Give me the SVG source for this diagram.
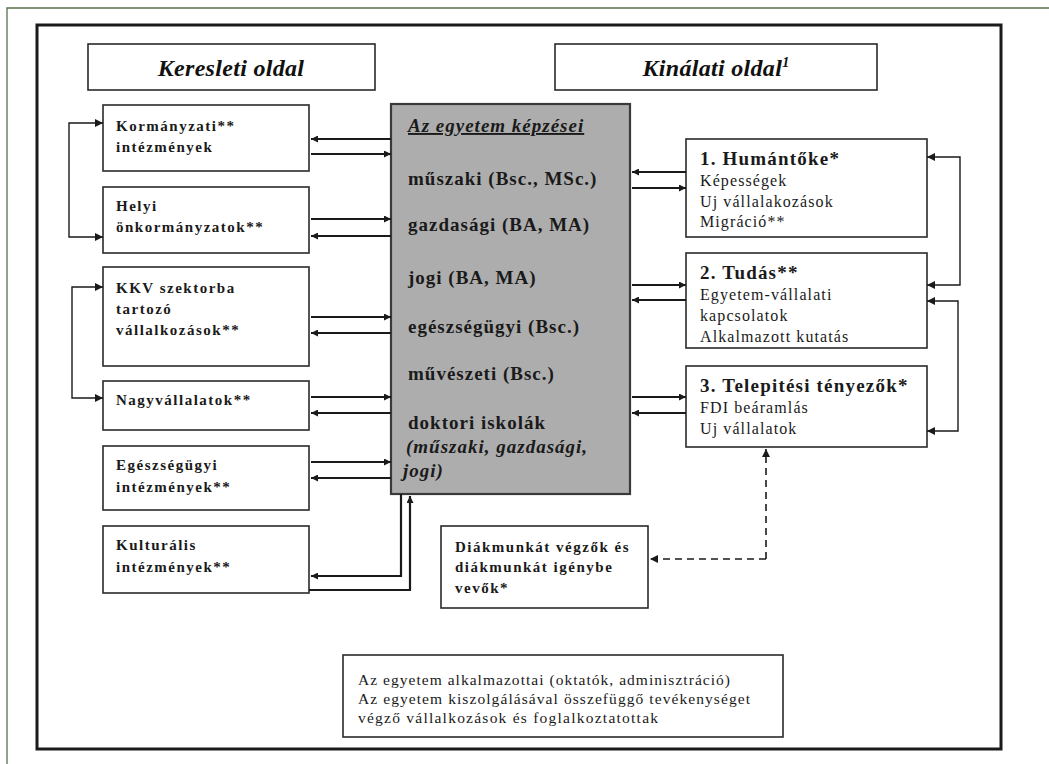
<svg xmlns="http://www.w3.org/2000/svg" width="1049" height="764" viewBox="0 0 1049 764">
<style>
.box{fill:#fff;stroke:#2a2a2a;stroke-width:1.6}
.center{fill:#adadad;stroke:#3a3a3a;stroke-width:2.2}
text{font-family:"Liberation Serif","Times New Roman","DejaVu Serif","Noto Serif",serif}
.hdr{font-style:italic;font-weight:bold;font-size:24px;letter-spacing:0.3px;fill:#111}
.lt{font-weight:bold;font-size:15px;letter-spacing:1.5px;fill:#1a1a1a}
.ct{font-weight:bold;font-size:19px;letter-spacing:1px;fill:#1a1a1a}
.rt{font-weight:bold;font-size:19px;letter-spacing:1.2px;fill:#1a1a1a}
.rs{font-size:16px;letter-spacing:1.1px;fill:#1a1a1a}
.bt{font-size:15.5px;fill:#1a1a1a}
.ar{fill:none;stroke:#1a1a1a;stroke-width:2.2;marker-end:url(#ah)}
.lp{fill:none;stroke:#1a1a1a;stroke-width:1.4;marker-end:url(#ah2)}
.ds{fill:none;stroke:#1a1a1a;stroke-width:1.6;stroke-dasharray:7,5;marker-end:url(#ah2)}
</style>
<defs>
<marker id="ah" viewBox="0 0 10 10" refX="10" refY="5" markerWidth="10" markerHeight="7" markerUnits="userSpaceOnUse" orient="auto"><path d="M0,0 L10,5 L0,10 z" fill="#1a1a1a"/></marker>
<marker id="ah2" viewBox="0 0 10 10" refX="10" refY="5" markerWidth="10" markerHeight="8" markerUnits="userSpaceOnUse" orient="auto"><path d="M0,0 L10,5 L0,10 z" fill="#1a1a1a"/></marker>
</defs>
<rect width="1049" height="764" fill="#fff"/>
<g id="frame">
<path d="M7,764 V8 H1049" fill="none" stroke="#55704a" stroke-width="1.3"/>
<rect x="37" y="25" width="964" height="724" fill="none" stroke="#1a1a1a" stroke-width="3"/>
</g>
<g id="keresleti"><rect class="box" x="88" y="44" width="287" height="46"/><text class="hdr" x="231" y="76" text-anchor="middle">Keresleti oldal</text></g>
<g id="kinalati"><rect class="box" x="555" y="44" width="322" height="46"/><text class="hdr" x="716" y="76" text-anchor="middle">Kinálati oldal<tspan font-size="14" dy="-9">1</tspan></text></g>

<g id="kormanyzati"><rect class="box" x="103" y="105" width="206" height="66"/><text class="lt" x="116" y="131">Kormányzati**</text><text class="lt" x="116" y="152">intézmények</text></g>
<g id="helyi"><rect class="box" x="103" y="187" width="206" height="66"/><text class="lt" x="116" y="211">Helyi</text><text class="lt" x="116" y="232">önkormányzatok**</text></g>
<g id="kkv"><rect class="box" x="103" y="267" width="206" height="99"/><text class="lt" x="116" y="293">KKV szektorba</text><text class="lt" x="116" y="314">tartozó</text><text class="lt" x="116" y="335">vállalkozások**</text></g>
<g id="nagy"><rect class="box" x="103" y="381" width="206" height="49"/><text class="lt" x="116" y="405">Nagyvállalatok**</text></g>
<g id="egeszseg"><rect class="box" x="103" y="446" width="206" height="64"/><text class="lt" x="116" y="470">Egészségügyi</text><text class="lt" x="116" y="492">intézmények**</text></g>
<g id="kultur"><rect class="box" x="103" y="526" width="206" height="67"/><text class="lt" x="116" y="550">Kulturális</text><text class="lt" x="116" y="572">intézmények**</text></g>

<g id="kepzesek"><rect class="center" x="391" y="104" width="239" height="390"/>
<text class="ct" x="408" y="132" font-style="italic" font-weight="normal" text-decoration="underline" letter-spacing="1.3">Az egyetem képzései</text>
<text class="ct" x="408" y="185">műszaki (Bsc., MSc.)</text>
<text class="ct" x="408" y="231">gazdasági (BA, MA)</text>
<text class="ct" x="408" y="284">jogi (BA, MA)</text>
<text class="ct" x="408" y="333">egészségügyi (Bsc.)</text>
<text class="ct" x="408" y="380">művészeti (Bsc.)</text>
<text class="ct" x="408" y="429">doktori iskolák</text>
<text class="ct" x="406" y="453" font-style="italic">(műszaki, gazdasági,</text>
<text class="ct" x="403" y="477" font-style="italic">jogi)</text>
</g>

<g id="humantoke"><rect class="box" x="686" y="139" width="241" height="98"/><text class="rt" x="700" y="165">1. Humántőke*</text><text class="rs" x="700" y="186">Képességek</text><text class="rs" x="700" y="207">Uj vállalakozások</text><text class="rs" x="700" y="227">Migráció**</text></g>
<g id="tudas"><rect class="box" x="686" y="253" width="241" height="95"/><text class="rt" x="700" y="279">2. Tudás**</text><text class="rs" x="700" y="300">Egyetem-vállalati</text><text class="rs" x="700" y="321">kapcsolatok</text><text class="rs" x="700" y="342">Alkalmazott kutatás</text></g>
<g id="telepitesi"><rect class="box" x="686" y="366" width="241" height="81"/><text class="rt" x="700" y="392">3. Telepitési tényezők*</text><text class="rs" x="700" y="413">FDI beáramlás</text><text class="rs" x="700" y="434">Uj vállalatok</text></g>

<g id="diakmunka"><rect class="box" x="441" y="526" width="207" height="82"/><text class="lt" x="455" y="552">Diákmunkát végzők és</text><text class="lt" x="455" y="572">diákmunkát igénybe</text><text class="lt" x="455" y="593">vevők*</text></g>

<g id="alkalmazottak"><rect class="box" x="343" y="655" width="440" height="82"/><text class="bt" x="358" y="685" textLength="372" lengthAdjust="spacing">Az egyetem alkalmazottai (oktatók, adminisztráció)</text><text class="bt" x="358" y="704" textLength="392" lengthAdjust="spacing">Az egyetem kiszolgálásával összefüggő tevékenységet</text><text class="bt" x="358" y="723" textLength="300" lengthAdjust="spacing">végző vállalkozások és foglalkoztatottak</text></g>

<g id="connectors">
<path class="ar" d="M391,139 H311"/><path class="ar" d="M311,154 H391"/>
<path class="ar" d="M311,219 H391"/><path class="ar" d="M391,236 H311"/>
<path class="ar" d="M311,317 H391"/><path class="ar" d="M391,333 H311"/>
<path class="ar" d="M311,397 H391"/><path class="ar" d="M391,413 H311"/>
<path class="ar" d="M311,462 H391"/><path class="ar" d="M391,478 H311"/>
<path class="ar" d="M401,494 V576 H311"/>
<path class="ar" d="M309,590 H410 V496"/>
<path class="ar" d="M686,172 H632"/><path class="ar" d="M632,188 H686"/>
<path class="ar" d="M632,285 H686"/><path class="ar" d="M686,300 H632"/>
<path class="ar" d="M632,397 H686"/><path class="ar" d="M686,413 H632"/>
<path class="lp" d="M69,180 V123 H103"/><path class="lp" d="M69,180 V237 H103"/>
<path class="lp" d="M72,340 V287 H103"/><path class="lp" d="M72,340 V398 H103"/>
<path class="lp" d="M960,220 V157 H927"/><path class="lp" d="M960,220 V285 H927"/>
<path class="lp" d="M958,366 V301 H927"/><path class="lp" d="M958,366 V431 H927"/>
<path class="ds" d="M766,559 V449"/><path class="ds" d="M766,559 H650"/>
</g>
</svg>
